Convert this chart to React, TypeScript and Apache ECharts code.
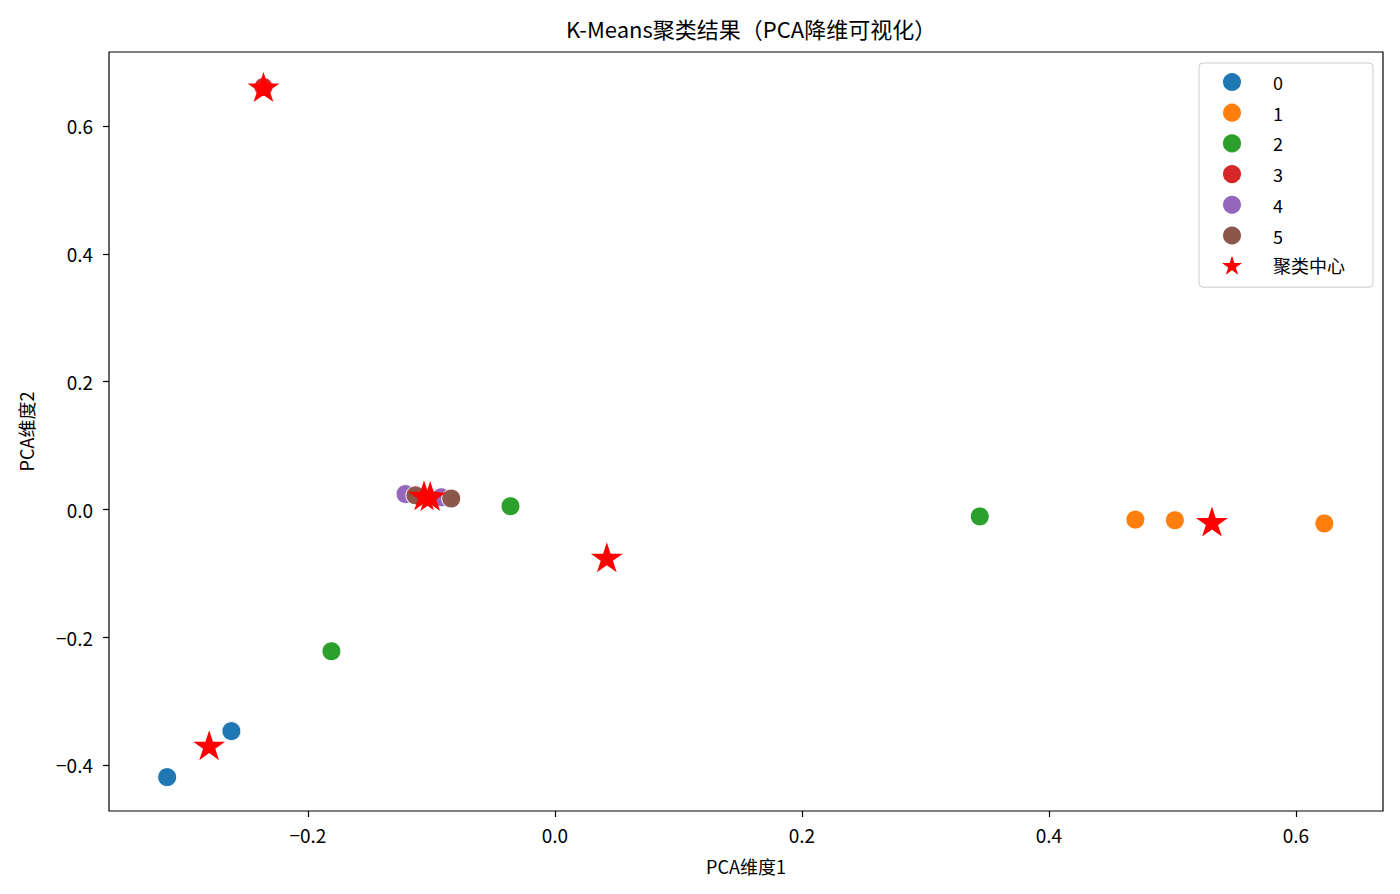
import React from 'react';
import * as echarts from 'echarts';

// 聚类点（PCA 两个维度），按簇分组
const cluster0X = [-0.314, -0.262];
const cluster0Y = [-0.419, -0.347];
const cluster1X = [0.47, 0.502, 0.623];
const cluster1Y = [-0.016, -0.017, -0.022];
const cluster2X = [-0.036, -0.181, 0.344];
const cluster2Y = [0.005, -0.222, -0.011];
const cluster3X = [-0.236];
const cluster3Y = [0.661];
const cluster4X = [-0.121, -0.092];
const cluster4Y = [0.024, 0.019];
const cluster5X = [-0.113, -0.084];
const cluster5Y = [0.022, 0.017];

const centerX = [-0.28, 0.532, 0.042, -0.236, -0.106, -0.101];
const centerY = [-0.369, -0.019, -0.075, 0.661, 0.022, 0.021];

const clusterNames = ['0', '1', '2', '3', '4', '5'];
const clusterColors = ['#1f77b4', '#ff7f0e', '#2ca02c', '#d62728', '#9467bd', '#8c564b'];

const xTicks = [-0.2, 0.0, 0.2, 0.4, 0.6];
const yTicks = [-0.4, -0.2, 0.0, 0.2, 0.4, 0.6];

const FONT = '"Noto Sans CJK SC", "Noto Sans", sans-serif';
const STAR =
  'path://M100,0 L122.45,69.1 L195.1,69.1 L136.3,111.8 L158.8,180.9 L100,138.2 L41.2,180.9 L63.7,111.8 L4.9,69.1 L77.55,69.1 Z';

const fmtTick = (v: number) => v.toFixed(1).replace('-', '\u2212');

const zipPoints = (xs: number[], ys: number[]) => xs.map((x, i) => [x, ys[i]]);

const clusters = [
  zipPoints(cluster0X, cluster0Y),
  zipPoints(cluster1X, cluster1Y),
  zipPoints(cluster2X, cluster2Y),
  zipPoints(cluster3X, cluster3Y),
  zipPoints(cluster4X, cluster4Y),
  zipPoints(cluster5X, cluster5Y),
];

const axisCommon = {
  type: 'value' as const,
  splitLine: { show: false },
  axisLine: { show: false, onZero: false },
  axisTick: { show: true, length: 6, lineStyle: { color: '#000', width: 1.2 } },
  nameTextStyle: { color: '#000', fontSize: 18, fontFamily: FONT },
};

export default function App() {
  const ref = React.useRef<HTMLDivElement>(null);

  React.useEffect(() => {
    if (!ref.current) return;
    const chart = echarts.init(ref.current, undefined, { renderer: 'svg' });

    const clusterSeries = clusters.map((data, i) => ({
      type: 'scatter',
      name: clusterNames[i],
      data,
      symbol: 'circle',
      symbolSize: 19,
      itemStyle: { color: clusterColors[i], borderColor: '#fff', borderWidth: 1, opacity: 1 },
      emphasis: { disabled: true },
    }));

    chart.setOption({
      animation: false,
      textStyle: { fontFamily: FONT },
      title: {
        text: 'K-Means聚类结果（PCA降维可视化）',
        left: 746,
        top: 12,
        textAlign: 'center',
        textStyle: { fontSize: 22, fontWeight: 'normal', color: '#000', fontFamily: FONT },
      },
      grid: {
        left: 109,
        right: 17,
        top: 52,
        bottom: 83,
        show: true,
        borderColor: '#000',
        borderWidth: 1.2,
        backgroundColor: '#fff',
      },
      legend: {
        orient: 'vertical',
        left: 1199,
        top: 63,
        padding: [8, 28, 12, 22],
        itemWidth: 20,
        itemHeight: 20,
        itemGap: 8.7,
        borderColor: '#ccc',
        borderWidth: 1,
        borderRadius: 4,
        backgroundColor: 'rgba(255,255,255,0.8)',
        selectedMode: false,
        textStyle: {
          fontSize: 18,
          lineHeight: 20,
          color: '#000',
          fontFamily: FONT,
          padding: [0, 0, 0, 26],
        },
        data: [
          ...clusterNames.map((name) => ({ name, icon: 'circle' })),
          { name: '聚类中心', icon: STAR },
        ],
      },
      xAxis: {
        ...axisCommon,
        min: -0.3611,
        max: 0.6705,
        name: 'PCA维度1',
        nameLocation: 'middle',
        nameGap: 46,
        axisTick: { ...axisCommon.axisTick, customValues: xTicks },
        axisLabel: {
          customValues: xTicks,
          formatter: fmtTick,
          color: '#000',
          fontSize: 19,
          margin: 14,
          fontFamily: FONT,
        },
      },
      yAxis: {
        ...axisCommon,
        min: -0.472,
        max: 0.7158,
        name: 'PCA维度2',
        nameLocation: 'middle',
        nameGap: 74,
        axisTick: { ...axisCommon.axisTick, customValues: yTicks },
        axisLabel: {
          customValues: yTicks,
          formatter: fmtTick,
          color: '#000',
          fontSize: 19,
          margin: 16,
          fontFamily: FONT,
        },
      },
      series: [
        ...clusterSeries,
        {
          type: 'scatter',
          name: '聚类中心',
          data: zipPoints(centerX, centerY),
          symbol: STAR,
          symbolSize: [32, 30],
          itemStyle: { color: '#ff0000', opacity: 1 },
          emphasis: { disabled: true },
        },
      ],
    });

    return () => chart.dispose();
  }, []);

  return (
    <div
      ref={ref}
      style={{ position: 'fixed', left: 0, top: 0, width: 1400, height: 894, background: '#fff' }}
    />
  );
}
